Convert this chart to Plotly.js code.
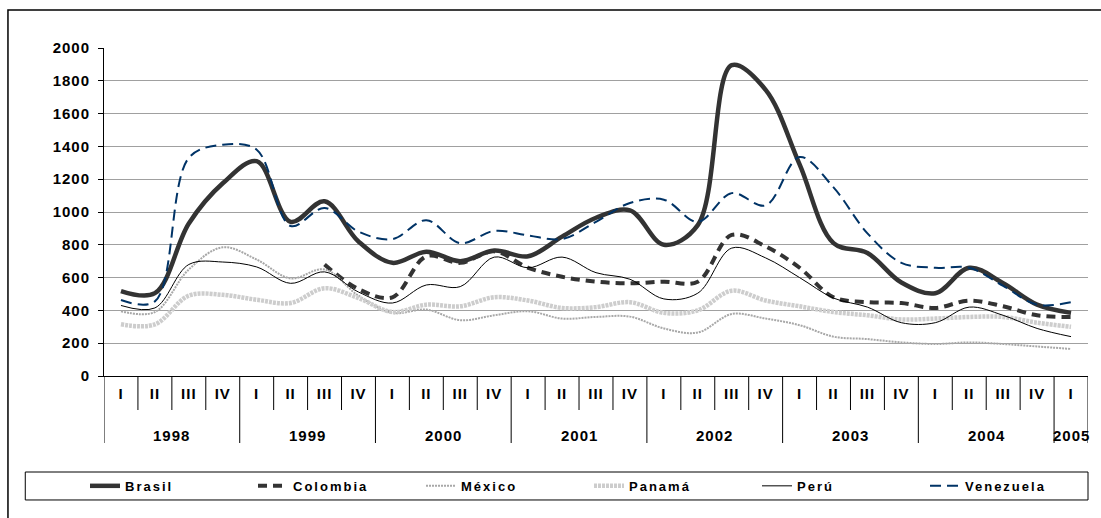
<!DOCTYPE html>
<html>
<head>
<meta charset="utf-8">
<script src="https://cdn.plot.ly/plotly-3.0.1.min.js"></script>
<style>
  html, body { margin: 0; padding: 0; background: #fff; }
  #chart { width: 1101px; height: 518px; }
  .legendtext { letter-spacing: 2px; }
  .xtick text, .ytick text, .annotation-text { letter-spacing: 1px; }
</style>
</head>
<body>
<div id="chart"></div>
<script>
// Period labels (outer level: year, inner level: quarter)
const periodYear = ['1998','1998','1998','1998','1999','1999','1999','1999','2000','2000','2000','2000',
                    '2001','2001','2001','2001','2002','2002','2002','2002','2003','2003','2003','2003',
                    '2004','2004','2004','2004','2005'];
const periodQuarter = ['I','II','III','IV','I','II','III','IV','I','II','III','IV',
                       'I','II','III','IV','I','II','III','IV','I','II','III','IV',
                       'I','II','III','IV','I'];

// Series values
const brasil    = [518, 505, 930, 1175, 1310, 940, 1065, 820, 690, 758, 700, 765, 730, 850, 965, 1010, 800, 920, 1895, 1745, 1290, 810, 750, 570, 505, 660, 565, 435, 385];
const colombia  = [null, null, null, null, null, null, 680, 530, 480, 730, 690, 760, 660, 605, 575, 565, 575, 575, 860, 790, 660, 480, 450, 445, 415, 460, 425, 370, 360];
const mexico    = [395, 390, 650, 785, 710, 595, 650, 490, 385, 405, 340, 370, 395, 350, 360, 362, 290, 265, 378, 350, 310, 240, 225, 205, 195, 205, 195, 180, 165];
const panama    = [315, 315, 490, 495, 465, 445, 535, 475, 390, 435, 425, 480, 460, 415, 420, 450, 385, 400, 520, 460, 425, 390, 370, 345, 350, 360, 360, 325, 300];
const peru      = [430, 415, 680, 695, 665, 565, 635, 512, 445, 555, 545, 725, 660, 725, 630, 590, 470, 505, 780, 720, 600, 475, 420, 325, 325, 420, 370, 290, 240];
const venezuela = [463, 455, 1330, 1410, 1380, 915, 1025, 880, 835, 950, 810, 885, 857, 835, 940, 1055, 1075, 940, 1115, 1040, 1335, 1150, 870, 690, 660, 660, 550, 435, 450];

const seriesNames = ['Brasil', 'Colombia', 'México', 'Panamá', 'Perú', 'Venezuela'];
const yTicks = [0, 200, 400, 600, 800, 1000, 1200, 1400, 1600, 1800, 2000];

// unique category keys, one per period
const periodKey = periodYear.map((y, i) => y + ' ' + periodQuarter[i]);
const FONT = 'Liberation Sans, Arial, Helvetica, sans-serif';

function tr(name, y, line) {
  return { type: 'scatter', mode: 'lines', name: name, x: periodKey, y: y,
           line: Object.assign({ shape: 'spline', smoothing: 1 }, line),
           connectgaps: false, hoverinfo: 'skip' };
}

const data = [
  tr(seriesNames[0], brasil,    { color: '#333333', width: 4.5 }),
  tr(seriesNames[1], colombia,  { color: '#333333', width: 4, dash: '9px,6px' }),
  tr(seriesNames[2], mexico,    { color: '#a8a8a8', width: 2, dash: '2px,1px' }),
  tr(seriesNames[3], panama,    { color: '#cdcdcd', width: 4.5, dash: '3px,1px' }),
  tr(seriesNames[4], peru,      { color: '#000000', width: 1 }),
  tr(seriesNames[5], venezuela, { color: '#003366', width: 2, dash: '11px,6px' })
];

// Category-axis decorations: quarter separators, year dividers, year labels
const shapes = [
  // outer chart frame
  { type: 'rect', xref: 'paper', yref: 'paper', x0: -0.0976, x1: 1.05, y0: -0.7, y1: 1.116,
    line: { color: '#000000', width: 1.5 }, fillcolor: 'rgba(0,0,0,0)', layer: 'below' },
  // legend box
  { type: 'rect', xref: 'paper', yref: 'paper', x0: -0.080, x1: 1.0, y0: -0.378, y1: -0.2927,
    line: { color: '#000000', width: 1 }, fillcolor: 'rgba(0,0,0,0)' }
];
for (let i = 0; i <= periodKey.length; i++) {
  const isYear = (i === 0 || i === periodKey.length || periodYear[i] !== periodYear[i - 1]);
  shapes.push({ type: 'line', xref: 'x', yref: 'paper', x0: i - 0.5, x1: i - 0.5,
                y0: 0, y1: isYear ? -0.2043 : -0.1037,
                line: { color: '#000000', width: 1 } });
}
const annotations = [];
const years = [...new Set(periodYear)];
years.forEach(yr => {
  const idx = periodYear.map((y, i) => y === yr ? i : -1).filter(i => i >= 0);
  const mid = (idx[0] + idx[idx.length - 1]) / 2;
  annotations.push({ xref: 'x', yref: 'paper', x: mid, y: -0.18, yanchor: 'middle', xanchor: 'center',
                     text: yr, showarrow: false,
                     font: { family: FONT, size: 15, color: '#000000', weight: 'bold' } });
});

const layout = {
  width: 1101, height: 518,
  margin: { l: 104, r: 13, t: 48, b: 142 },
  paper_bgcolor: '#ffffff', plot_bgcolor: '#ffffff',
  font: { family: FONT, size: 15, color: '#000000', weight: 'bold' },
  showlegend: true,
  xaxis: {
    type: 'category', categoryorder: 'array', categoryarray: periodKey,
    range: [-0.5, periodKey.length - 0.5],
    tickvals: periodKey, ticktext: periodQuarter,
    showline: true, linecolor: '#000000', linewidth: 1,
    ticks: '', ticklabelstandoff: 4,
    showgrid: false, zeroline: false, automargin: false,
    tickfont: { family: FONT, size: 15, color: '#000000', weight: 'bold' }
  },
  yaxis: {
    range: [0, 2000], tickvals: yTicks, ticktext: yTicks.map(String),
    showline: true, linecolor: '#000000', linewidth: 1,
    ticks: 'outside', ticklen: 5, tickcolor: '#000000',
    ticklabelstandoff: 5,
    showgrid: true, gridcolor: '#a0a0a0', gridwidth: 1,
    zeroline: false, automargin: false,
    tickfont: { family: FONT, size: 15, color: '#000000', weight: 'bold' }
  },
  legend: {
    orientation: 'h', x: -0.0193, xanchor: 'left', y: -0.335, yanchor: 'middle',
    bgcolor: 'rgba(0,0,0,0)', borderwidth: 0,
    entrywidth: 123, entrywidthmode: 'pixels',
    font: { family: FONT, size: 13, color: '#000000', weight: 'bold' },
    traceorder: 'normal'
  },
  shapes: shapes,
  annotations: annotations
};

Plotly.newPlot('chart', data, layout, { staticPlot: true, displayModeBar: false });
</script>
</body>
</html>
